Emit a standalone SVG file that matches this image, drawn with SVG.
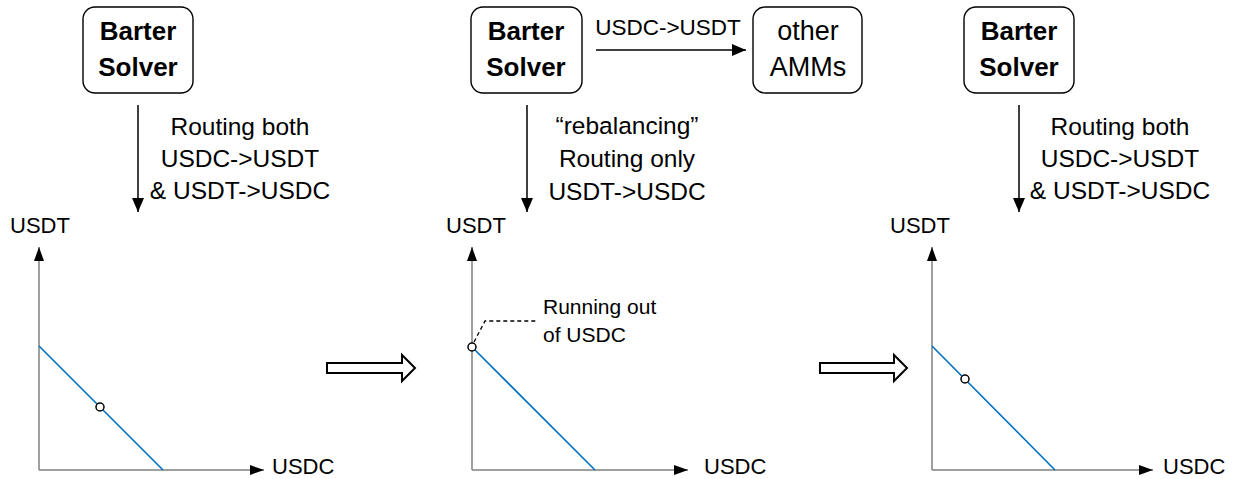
<svg xmlns="http://www.w3.org/2000/svg" width="1236" height="479" viewBox="0 0 1236 479">
<style>
.box{fill:#fff;stroke:#000;stroke-width:1.4}
.bold{font-family:"Liberation Sans",Arial,sans-serif;font-weight:bold;font-size:26px;fill:#000;text-anchor:middle}
.lbl{font-family:"Liberation Sans",Arial,sans-serif;font-size:24.5px;fill:#000;text-anchor:middle}
.top-lbl{font-family:"Liberation Sans",Arial,sans-serif;font-size:22.5px;fill:#000;text-anchor:middle}
.big-lbl{font-family:"Liberation Sans",Arial,sans-serif;font-size:27px;fill:#000;text-anchor:middle}
.ax{font-family:"Liberation Sans",Arial,sans-serif;font-size:22px;fill:#000}
.note{font-family:"Liberation Sans",Arial,sans-serif;font-size:21px;fill:#000}
.flow{stroke:#000;stroke-width:1.5;fill:none}
.axis{stroke:#808080;stroke-width:1.5;fill:none}
.curve{stroke:#0070C0;stroke-width:1.6;fill:none}
.pt{fill:#fff;stroke:#000;stroke-width:1.5}
.big{fill:#fff;stroke:#000;stroke-width:2}
.dash{stroke:#000;stroke-width:1.3;fill:none;stroke-dasharray:4 3}
</style>
<defs>
<marker id="ah" markerUnits="userSpaceOnUse" markerWidth="14" markerHeight="12" refX="14" refY="6" orient="auto">
<path d="M0,0 L14,6 L0,12 z" fill="#000"/>
</marker>
<marker id="axh" markerUnits="userSpaceOnUse" markerWidth="14" markerHeight="10" refX="14" refY="5" orient="auto">
<path d="M0,0 L14,5 L0,10 z" fill="#000"/>
</marker>
</defs>

<g id="solver1">
<rect class="box" x="83" y="7" width="110" height="86" rx="12"/>
<text class="bold" x="138" y="40">Barter</text>
<text class="bold" x="138" y="76">Solver</text>
</g>
<g id="solver2">
<rect class="box" x="471" y="7" width="111" height="86" rx="12"/>
<text class="bold" x="526" y="40">Barter</text>
<text class="bold" x="526" y="76">Solver</text>
</g>
<g id="amms">
<rect class="box" x="753" y="7" width="109" height="86" rx="12"/>
<text class="big-lbl" x="808" y="40">other</text>
<text class="big-lbl" x="808" y="76">AMMs</text>
</g>
<g id="solver3">
<rect class="box" x="964" y="7" width="110" height="86" rx="12"/>
<text class="bold" x="1019" y="40">Barter</text>
<text class="bold" x="1019" y="76">Solver</text>
</g>

<g id="connectors">
<line class="flow" x1="138" y1="105" x2="138" y2="212" marker-end="url(#ah)"/>
<line class="flow" x1="527" y1="105" x2="527" y2="212" marker-end="url(#ah)"/>
<line class="flow" x1="1019" y1="105" x2="1019" y2="212" marker-end="url(#ah)"/>
<line class="flow" x1="596" y1="50" x2="746" y2="50" marker-end="url(#ah)"/>
<polygon class="big" points="327,363 402,363 402,355 415,368 402,381 402,373 327,373"/>
<polygon class="big" points="820,363 894,363 894,355 907,368 894,381 894,373 820,373"/>
</g>

<g id="labels">
<text class="lbl" x="240" y="135">Routing both</text>
<text class="lbl" x="240" y="167">USDC-&gt;USDT</text>
<text class="lbl" x="240" y="199">&amp; USDT-&gt;USDC</text>
<text class="top-lbl" x="668" y="35">USDC-&gt;USDT</text>
<text class="lbl" x="627" y="134">“rebalancing”</text>
<text class="lbl" x="627" y="167">Routing only</text>
<text class="lbl" x="627" y="200">USDT-&gt;USDC</text>
<text class="lbl" x="1120" y="135">Routing both</text>
<text class="lbl" x="1120" y="167">USDC-&gt;USDT</text>
<text class="lbl" x="1120" y="199">&amp; USDT-&gt;USDC</text>
</g>

<g id="chart1">
<line class="axis" x1="39" y1="470" x2="39" y2="247" marker-end="url(#axh)"/>
<line class="axis" x1="39" y1="470" x2="264" y2="470" marker-end="url(#axh)"/>
<line class="curve" x1="39" y1="346" x2="163" y2="470"/>
<circle class="pt" cx="100" cy="407" r="4"/>
<text class="ax" x="10" y="233">USDT</text>
<text class="ax" x="272" y="474">USDC</text>
</g>
<g id="chart2">
<line class="axis" x1="472" y1="470" x2="472" y2="247" marker-end="url(#axh)"/>
<line class="axis" x1="472" y1="470" x2="688" y2="470" marker-end="url(#axh)"/>
<line class="curve" x1="472" y1="347" x2="595" y2="470"/>
<path class="dash" d="M474,342 L485,321 L537,321"/>
<circle class="pt" cx="472" cy="347" r="4"/>
<text class="ax" x="446" y="233">USDT</text>
<text class="ax" x="704" y="474">USDC</text>
<text class="note" x="543" y="314">Running out</text>
<text class="note" x="543" y="342">of USDC</text>
</g>
<g id="chart3">
<line class="axis" x1="932" y1="470" x2="932" y2="247" marker-end="url(#axh)"/>
<line class="axis" x1="932" y1="470" x2="1153" y2="470" marker-end="url(#axh)"/>
<line class="curve" x1="932" y1="346" x2="1055" y2="470"/>
<circle class="pt" cx="965" cy="379" r="4"/>
<text class="ax" x="890" y="233">USDT</text>
<text class="ax" x="1163" y="474">USDC</text>
</g>
</svg>
